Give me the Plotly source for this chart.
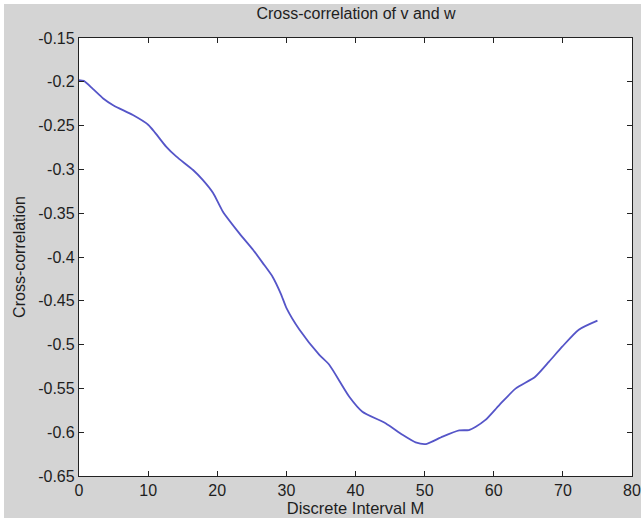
import plotly.graph_objects as go

# Data
lag_m = [0, 0.7, 2, 3.5, 5, 7.8, 10, 11, 12.6, 14.1, 16.5, 17.9, 19.4, 20.8, 23.2, 25.2,
         26.6, 28, 29.2, 30, 31.9, 34.8, 36.2, 39.1, 41, 44.4, 46.8, 48.7, 50.2, 52.6,
         55, 56.4, 57.4, 58.8, 60.8, 63.2, 66, 68, 69.9, 72.3, 75]
xcorr = [-0.198, -0.199, -0.208, -0.219, -0.227, -0.238, -0.249, -0.258, -0.274, -0.2855,
         -0.3007, -0.312, -0.327, -0.348, -0.373, -0.392, -0.407, -0.4225, -0.442, -0.458,
         -0.483, -0.512, -0.523, -0.5595, -0.5766, -0.590, -0.603, -0.6116, -0.6135, -0.605,
         -0.598, -0.5975, -0.5937, -0.586, -0.569, -0.550, -0.5367, -0.5195, -0.5024, -0.483,
         -0.4727]

x_ticks = [0, 10, 20, 30, 40, 50, 60, 70, 80]
x_tick_text = ["0", "10", "20", "30", "40", "50", "60", "70", "80"]
y_ticks = [-0.65, -0.6, -0.55, -0.5, -0.45, -0.4, -0.35, -0.3, -0.25, -0.2, -0.15]
y_tick_text = ["-0.65", "-0.6", "-0.55", "-0.5", "-0.45", "-0.4", "-0.35", "-0.3", "-0.25", "-0.2", "-0.15"]

title_text = "Cross-correlation of v and w"
x_title = "Discrete Interval M"
y_title = "Cross-correlation"

W, H = 641, 522
L, R, T, B = 79, 9, 38, 46
pw, ph = W - L - R, H - T - B

def px_x(p):
    return (p - L) / pw

def px_y(p):
    return (H - B - p) / ph

FAM = "Liberation Sans, Arial, sans-serif"
TXT = "#1e1e1e"

fig = go.Figure()
fig.add_trace(go.Scatter(x=lag_m, y=xcorr, mode="lines", line_shape="spline",
                         line=dict(color="#5555c8", width=1.8, smoothing=0.6), showlegend=False))

tick_font = dict(family=FAM, size=16, color=TXT)

axis_common = dict(showgrid=False, zeroline=False, showline=True, linecolor="#222222",
                   linewidth=1.3, mirror="ticks", ticks="inside", ticklen=5,
                   tickcolor="#222222", tickwidth=1.3, tickfont=tick_font,
                   ticklabeloverflow="allow", automargin=False)

fig.update_layout(
    width=W, height=H,
    margin=dict(l=L, r=R, t=T, b=B),
    paper_bgcolor="white", plot_bgcolor="white",
    font=tick_font,
    title=dict(text=title_text, x=px_x(356), xref="paper", xanchor="center",
               y=1 - 13 / H, yanchor="middle",
               font=dict(family=FAM, size=16, color=TXT)),
    xaxis=dict(range=[0, 80], tickvals=x_ticks, ticktext=x_tick_text,
               title=dict(text=x_title, standoff=0,
                          font=dict(family=FAM, size=16.5, color=TXT)),
               **axis_common),
    yaxis=dict(range=[-0.65, -0.15], tickvals=y_ticks, ticktext=y_tick_text,
               title=dict(text=y_title, standoff=8,
                          font=dict(family=FAM, size=16, color=TXT)),
               **axis_common),
    shapes=[
        dict(type="rect", xref="paper", yref="paper", layer="below",
             x0=px_x(4), x1=px_x(W + 5), y0=px_y(518), y1=px_y(4),
             fillcolor="#d4d4d4", line=dict(width=0)),
        dict(type="rect", xref="paper", yref="paper", layer="below",
             x0=0, x1=1, y0=0, y1=1, fillcolor="white", line=dict(width=0)),
    ],
)

fig.write_html("out.html")
